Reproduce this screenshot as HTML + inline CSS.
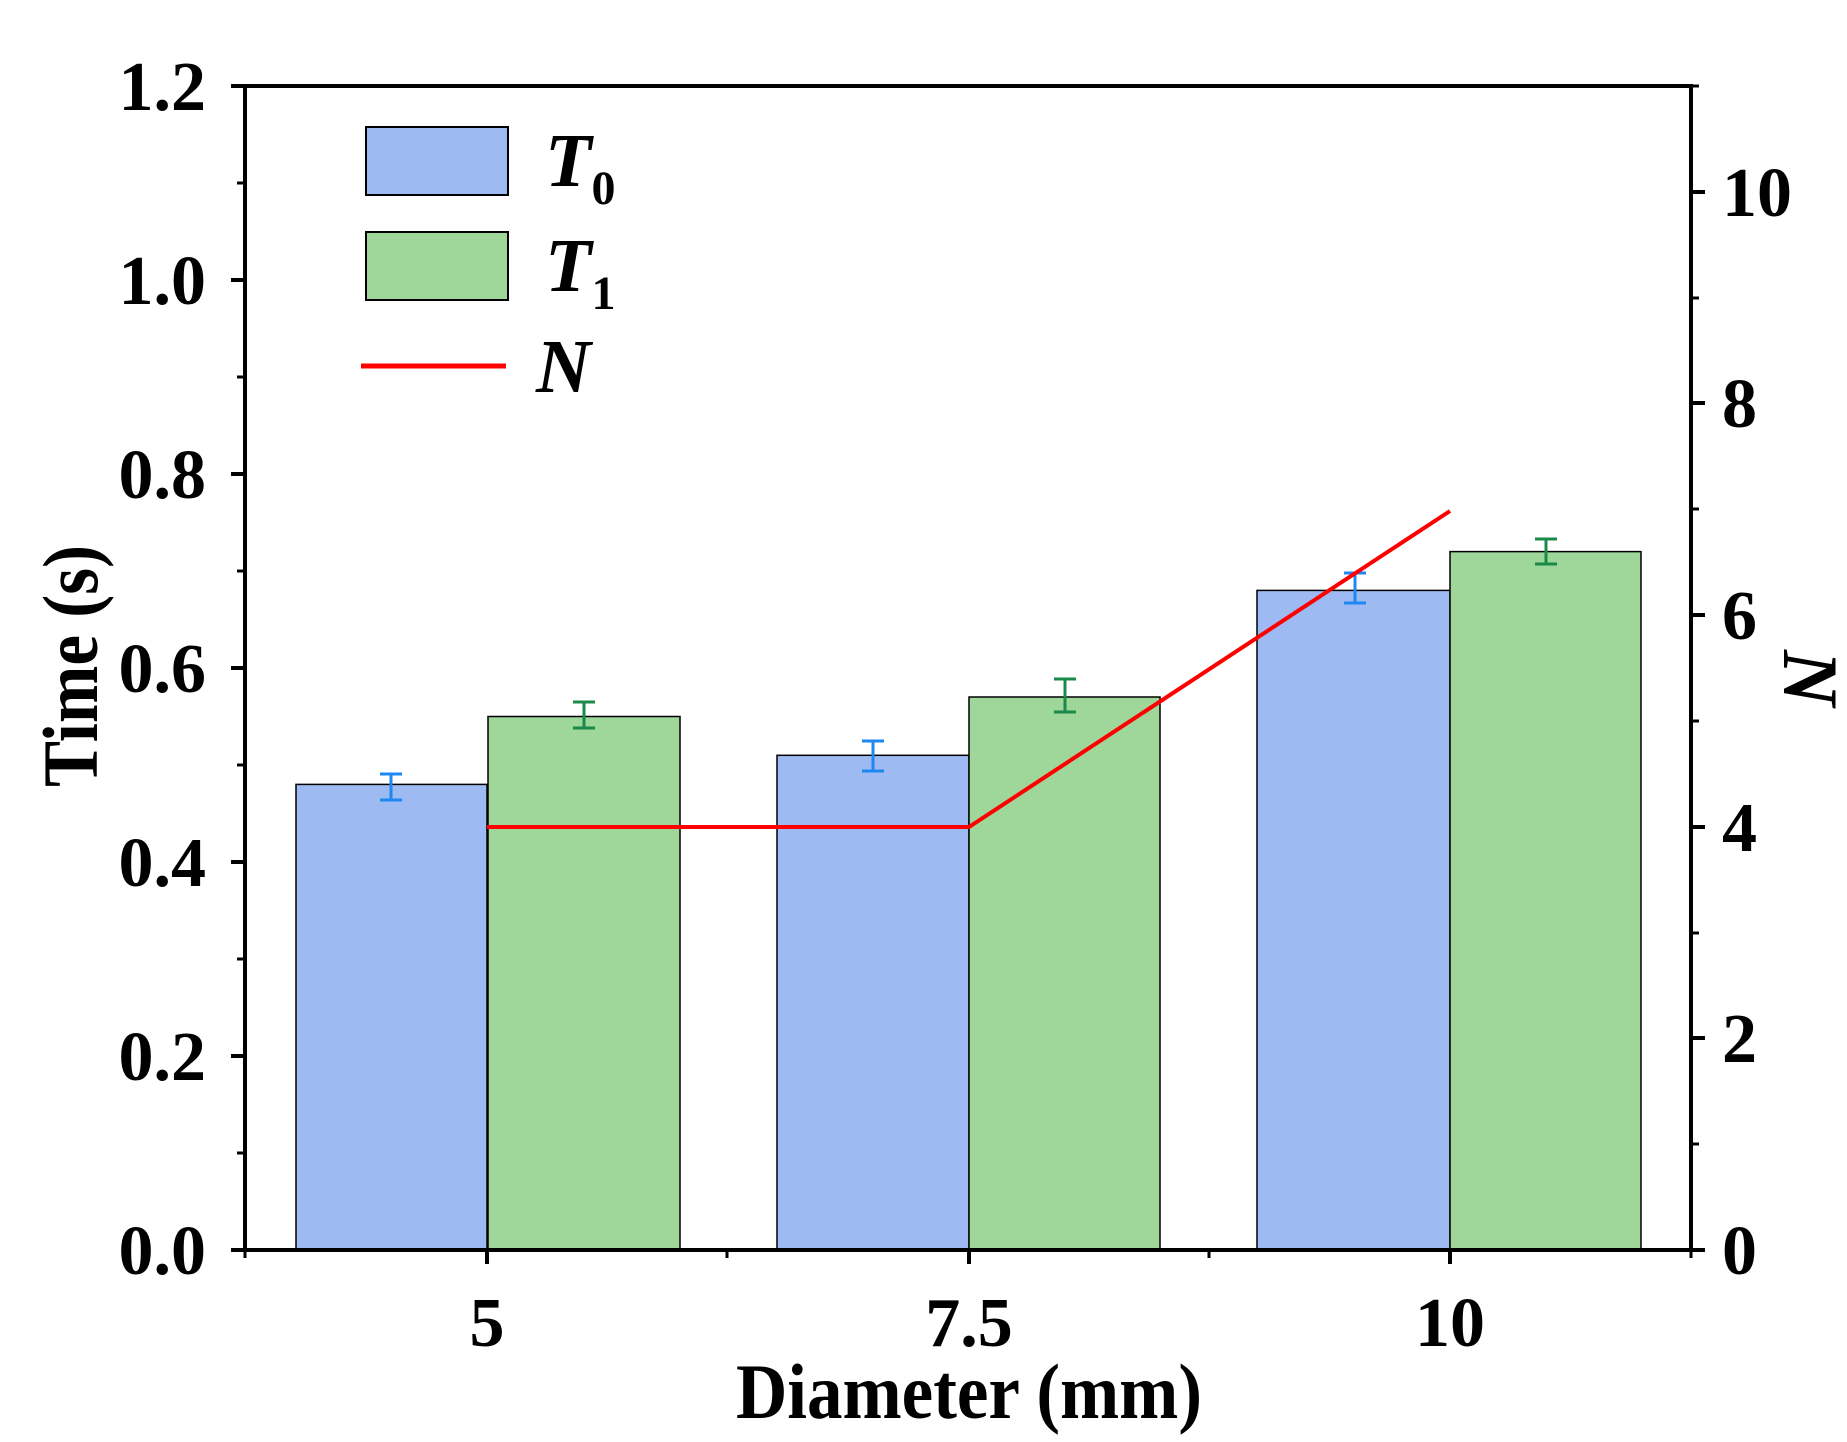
<!DOCTYPE html>
<html><head><style>body{margin:0;background:#fff}</style></head><body>
<svg width="1847" height="1437" xmlns="http://www.w3.org/2000/svg" font-family="Liberation Serif, serif" font-weight="bold">
<rect width="1847" height="1437" fill="#fff"/>
<g stroke="#000" stroke-width="1.5">
<rect x="296" y="784.4" width="191" height="465.6" fill="#9dbaf2"/>
<rect x="488" y="716.5" width="192" height="533.5" fill="#9fd79b"/>
<rect x="777" y="755.3" width="192" height="494.7" fill="#9dbaf2"/>
<rect x="969" y="697" width="191" height="553" fill="#9fd79b"/>
<rect x="1257" y="590.4" width="193" height="659.6" fill="#9dbaf2"/>
<rect x="1450" y="551.6" width="191" height="698.4" fill="#9fd79b"/>
</g>
<g stroke="#1e88f0" stroke-width="3" fill="none">
<path d="M391 774v26M380 774h22M380 800h22"/>
<path d="M873 741v30M862 741h22M862 771h22"/>
<path d="M1355 573v30M1344 573h22M1344 603h22"/>
</g>
<g stroke="#1a8a4a" stroke-width="3" fill="none">
<path d="M584 702v26M573 702h22M573 728h22"/>
<path d="M1065 679v33M1054 679h22M1054 712h22"/>
<path d="M1546 539v25M1535 539h22M1535 564h22"/>
</g>
<polyline points="487,827 969,827 1450,511" fill="none" stroke="#f00" stroke-width="4"/>
<g stroke="#000" stroke-width="4" fill="none">
<rect x="245" y="86" width="1446" height="1164"/>
<path d="M245 1250h-14M245 1056h-14M245 862h-14M245 668h-14M245 474h-14M245 280h-14M245 86h-14"/>
<path d="M245 1153h-8M245 959h-8M245 765h-8M245 571h-8M245 377h-8M245 183h-8" stroke-width="3"/>
<path d="M1691 1250h14M1691 1038h14M1691 827h14M1691 615h14M1691 403h14M1691 192h14"/>
<path d="M1691 1144h8M1691 933h8M1691 721h8M1691 509h8M1691 298h8M1691 86h8" stroke-width="3"/>
<path d="M487 1250v14M969 1250v14M1450 1250v14"/>
<path d="M727 1250v8M1209 1250v8M245 1250v8M1691 1250v8" stroke-width="3"/>
</g>
<g font-size="70" text-anchor="end">
<text x="206" y="1274">0.0</text><text x="206" y="1080">0.2</text><text x="206" y="886">0.4</text>
<text x="206" y="692">0.6</text><text x="206" y="498">0.8</text><text x="206" y="304">1.0</text><text x="206" y="110">1.2</text>
</g>
<g font-size="70">
<text x="1722" y="1274">0</text><text x="1722" y="1062">2</text><text x="1722" y="851">4</text>
<text x="1722" y="639">6</text><text x="1722" y="427">8</text><text x="1722" y="216">10</text>
</g>
<g font-size="70" text-anchor="middle">
<text x="487" y="1346">5</text><text x="969" y="1346">7.5</text><text x="1450" y="1346">10</text>
</g>
<g font-size="78">
<text x="736" y="1418" textLength="466" lengthAdjust="spacingAndGlyphs">Diameter (mm)</text>
<text transform="translate(97,787) rotate(-90)" textLength="242" lengthAdjust="spacingAndGlyphs">Time (s)</text>
<text transform="translate(1784,650) rotate(90)" font-style="italic">N</text>
</g>
<rect x="366" y="127" width="142" height="68" fill="#9dbaf2" stroke="#000" stroke-width="2"/>
<rect x="366" y="232" width="142" height="68" fill="#9fd79b" stroke="#000" stroke-width="2"/>
<line x1="361" y1="366" x2="506" y2="366" stroke="#f00" stroke-width="5"/>
<g font-size="76" font-style="italic">
<text x="545" y="186">T<tspan font-size="48" font-style="normal" dy="18">0</tspan></text>
<text x="545" y="291">T<tspan font-size="48" font-style="normal" dy="18">1</tspan></text>
<text x="536" y="392">N</text>
</g>
</svg>
</body></html>
